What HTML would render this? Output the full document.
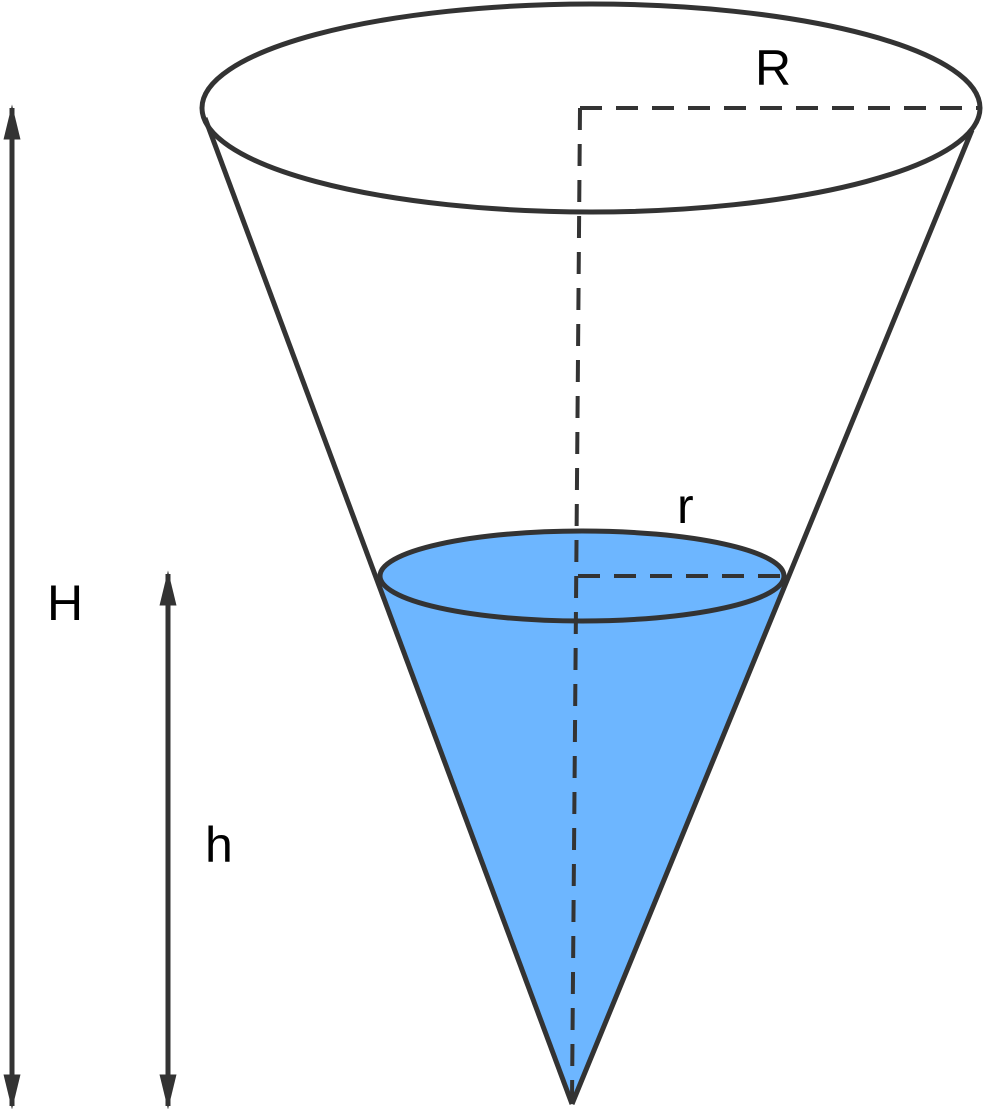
<!DOCTYPE html>
<html><head><meta charset="utf-8"><style>
html,body{margin:0;padding:0;background:#fff;}
svg{display:block;}
text{font-family:"Liberation Sans",Arial,sans-serif;fill:#000;}
</style></head><body>
<svg width="986" height="1109" viewBox="0 0 986 1109" xmlns="http://www.w3.org/2000/svg">
  <defs>
    <marker id="ah" viewBox="0 0 10 10" refX="9" refY="5" markerWidth="7" markerHeight="3.4" preserveAspectRatio="none" orient="auto-start-reverse" markerUnits="strokeWidth">
      <path d="M0,0 L10,5 L0,10 z" fill="#333"/>
    </marker>
  </defs>
  <path d="M377,576 L572,1104 L787,576 Z" fill="#6db6ff" stroke="none"/>
  <line x1="205" y1="118" x2="572" y2="1104" stroke="#333" stroke-width="5"/>
  <line x1="972" y1="130" x2="572" y2="1104" stroke="#333" stroke-width="5"/>
  <ellipse cx="591" cy="108" rx="389" ry="104" fill="none" stroke="#333" stroke-width="5"/>
  <ellipse cx="582" cy="576" rx="202" ry="45" fill="#6db6ff" stroke="#333" stroke-width="5"/>
  <g stroke="#333" stroke-width="4" stroke-dasharray="22,14" fill="none">
    <path d="M580,108 L572,1100"/>
    <path d="M580,108 L980,108"/>
    <path d="M578,576 L784,576"/>
  </g>
  <line x1="12" y1="108" x2="12" y2="1106" stroke="#333" stroke-width="5" marker-start="url(#ah)" marker-end="url(#ah)"/>
  <line x1="168" y1="574" x2="168" y2="1106" stroke="#333" stroke-width="5" marker-start="url(#ah)" marker-end="url(#ah)"/>
  <text x="755" y="85" font-size="50">R</text>
  <text x="677" y="523" font-size="50">r</text>
  <text x="47" y="620" font-size="50">H</text>
  <text x="205" y="862" font-size="50">h</text>
</svg>
</body></html>
